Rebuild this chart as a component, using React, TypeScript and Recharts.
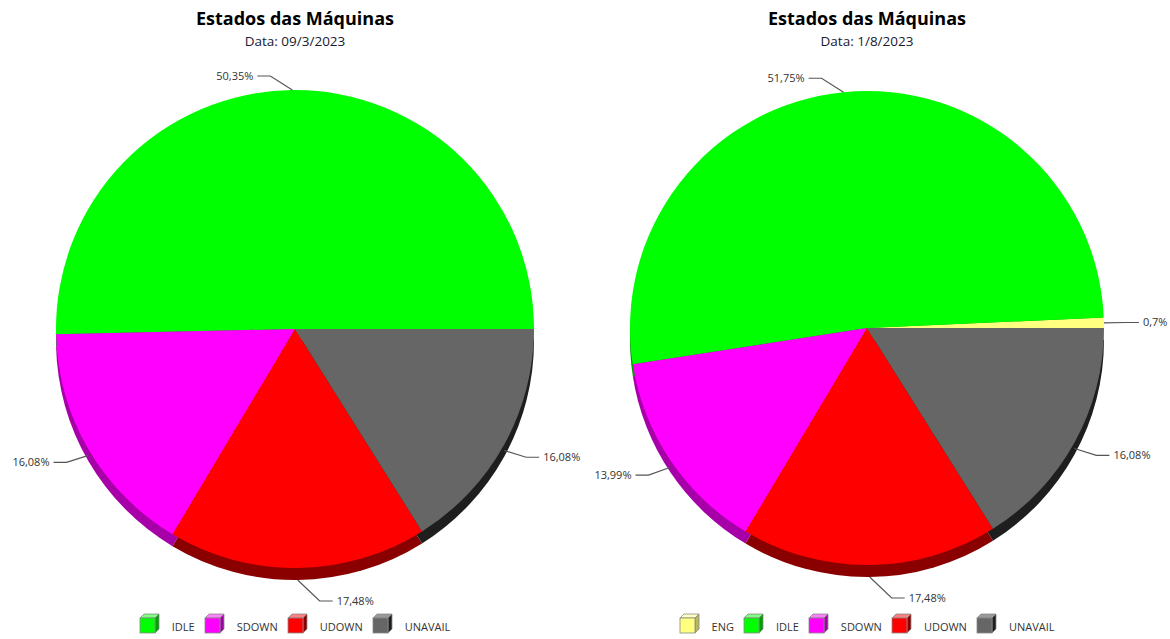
import React from "react";
import { PieChart, Pie, Cell, Legend } from "recharts";

const leftNames = ["IDLE", "SDOWN", "UDOWN", "UNAVAIL"];
const leftValues = [50.35, 16.08, 17.48, 16.08];
const leftDate = "Data: 09/3/2023";

const rightNames = ["ENG", "IDLE", "SDOWN", "UDOWN", "UNAVAIL"];
const rightValues = [0.7, 51.75, 13.99, 17.48, 16.08];
const rightDate = "Data: 1/8/2023";

const title = "Estados das Máquinas";

const COLORS: Record<string, string> = {
  ENG: "#FFFF80",
  IDLE: "#00FF00",
  SDOWN: "#FF00FF",
  UDOWN: "#FF0000",
  UNAVAIL: "#666666",
};
const DARK: Record<string, string> = {
  ENG: "#B8B860",
  IDLE: "#00A000",
  SDOWN: "#A800A8",
  UDOWN: "#8A0000",
  UNAVAIL: "#1E1E1E",
};
const TOP: Record<string, string> = {
  ENG: "#FFFFC0",
  IDLE: "#80FF80",
  SDOWN: "#FF80FF",
  UDOWN: "#FF8080",
  UNAVAIL: "#999999",
};

const FONT = "'Open Sans', 'DejaVu Sans', sans-serif";
const DEPTH = 12;
const RADIAN = Math.PI / 180;
const M = 5; // recharts default margin

const fmt = (v: number) => `${v}`.replace(".", ",") + "%";

function makeLabel(values: number[]) {
  return (props: any) => {
    const { cx, cy, midAngle, outerRadius, index } = props;
    const s = Math.sin(midAngle * RADIAN);
    const c = Math.cos(midAngle * RADIAN);
    const sx = cx + outerRadius * c;
    const sy = cy - outerRadius * s + DEPTH * Math.max(0, -s);
    const sign = c >= 0 ? 1 : -1;
    const ex = sx + sign * 22;
    const ey = sy - s * 14 * (s < -0.9 ? 1.5 : 1);
    const hx = ex + sign * 13;
    return (
      <g key={`lbl-${index}`}>
        <polyline
          points={`${sx},${sy} ${ex},${ey} ${hx},${ey}`}
          fill="none"
          stroke="#555"
          strokeWidth={1.2}
        />
        <text
          x={hx + sign * 4}
          y={ey}
          dy={4}
          textAnchor={sign > 0 ? "start" : "end"}
          fontFamily={FONT}
          fontSize={11}
          fill="#333"
        >
          {fmt(values[index])}
        </text>
      </g>
    );
  };
}

function Cube({ name }: { name: string }) {
  return (
    <svg width={21} height={21} style={{ display: "block" }}>
      <polygon points="1,5 5,1 20,1 16,5" fill={TOP[name]} stroke="#888" strokeWidth={0.8} />
      <polygon points="16,5 20,1 20,16 16,20" fill={DARK[name]} stroke="#888" strokeWidth={0.8} />
      <rect x={1} y={5} width={15} height={15} fill={COLORS[name]} stroke="#888" strokeWidth={0.8} />
    </svg>
  );
}

function makeLegend(names: string[]) {
  return () => (
    <div
      style={{
        display: "flex",
        justifyContent: "center",
        alignItems: "center",
        fontFamily: FONT,
        fontSize: 11,
        color: "#333",
      }}
    >
      {names.map((n) => (
        <div key={n} style={{ display: "flex", alignItems: "center", marginRight: 9 }}>
          <Cube name={n} />
          <span style={{ marginLeft: 12, marginTop: 6 }}>{n}</span>
        </div>
      ))}
    </div>
  );
}

function OnePie({
  names,
  values,
  date,
  left,
  cx,
  cy,
  r,
  legendLeft,
  legendWidth,
}: {
  names: string[];
  values: number[];
  date: string;
  left: number;
  cx: number;
  cy: number;
  r: number;
  legendLeft: number;
  legendWidth: number;
}) {
  const data = names.map((n, i) => ({ name: n, value: values[i] }));
  return (
    <div style={{ position: "absolute", left, top: 0, width: 585, height: 639 }}>
      <div
        style={{
          position: "absolute",
          left: cx - 200,
          width: 400,
          top: 6,
          textAlign: "center",
          fontFamily: FONT,
          fontWeight: 700,
          fontSize: 18,
          color: "#000",
          lineHeight: "24px",
        }}
      >
        {title}
      </div>
      <div
        style={{
          position: "absolute",
          left: cx - 200,
          width: 400,
          top: 31,
          textAlign: "center",
          fontFamily: FONT,
          fontSize: 13.5,
          color: "#1a1a2e",
          lineHeight: "20px",
        }}
      >
        {date}
      </div>
      <div style={{ position: "absolute", left: 0, top: 0 }}>
        <PieChart width={585} height={639}>
          <Pie
            data={data}
            dataKey="value"
            nameKey="name"
            cx={cx - M}
            cy={cy + DEPTH - M}
            outerRadius={r}
            stroke="none"
            isAnimationActive={false}
            legendType="none"
          >
            {data.map((d) => (
              <Cell key={`d-${d.name}`} fill={DARK[d.name]} />
            ))}
          </Pie>
          <Pie
            data={data}
            dataKey="value"
            nameKey="name"
            cx={cx - M}
            cy={cy - M}
            outerRadius={r}
            stroke="none"
            isAnimationActive={false}
            labelLine={false}
            label={makeLabel(values)}
          >
            {data.map((d) => (
              <Cell key={`m-${d.name}`} fill={COLORS[d.name]} />
            ))}
          </Pie>
          <Legend
            content={makeLegend(names)}
            wrapperStyle={{ position: "absolute", left: legendLeft, width: legendWidth, top: 613, bottom: "auto" }}
          />
        </PieChart>
      </div>
    </div>
  );
}

export default function App() {
  return (
    <div style={{ position: "absolute", left: 0, top: 0, width: 1170, height: 639, background: "#fff", overflow: "hidden" }}>
      <OnePie names={leftNames} values={leftValues} date={leftDate} left={0} cx={295} cy={329} r={239} legendLeft={99} legendWidth={400} />
      <OnePie names={rightNames} values={rightValues} date={rightDate} left={585} cx={282} cy={328} r={237} legendLeft={86} legendWidth={400} />
    </div>
  );
}
